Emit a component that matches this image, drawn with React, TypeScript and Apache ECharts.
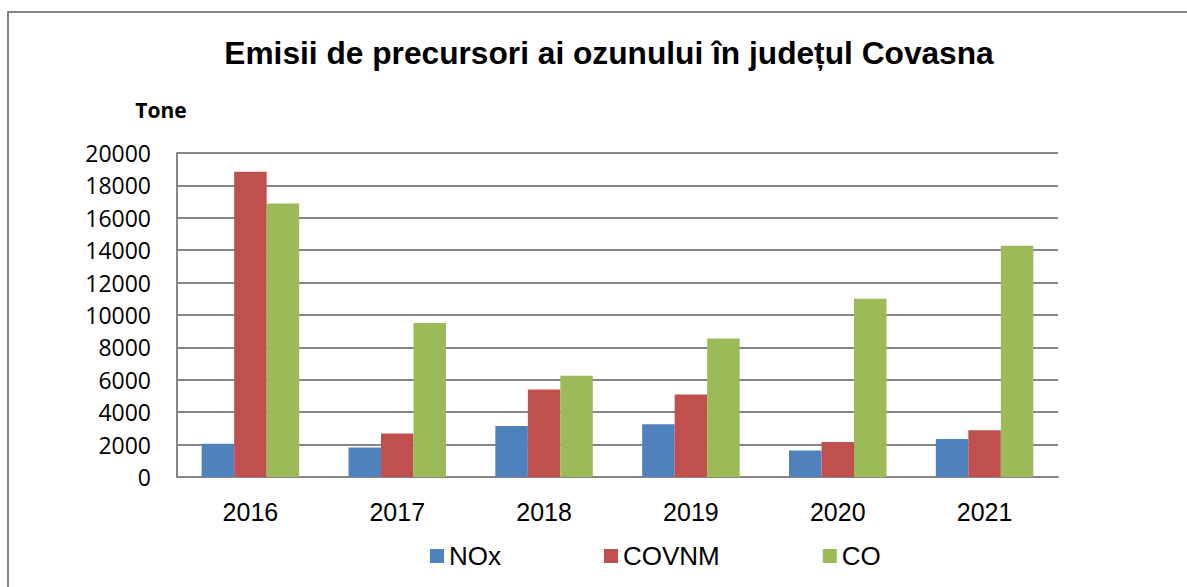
import React, { useEffect, useRef } from "react";
import * as echarts from "echarts";

const years = ["2016", "2017", "2018", "2019", "2020", "2021"];
const seriesNames = ["NOx", "COVNM", "CO"];
const noxValues = [2050, 1820, 3150, 3250, 1630, 2350];
const covnmValues = [18850, 2680, 5400, 5100, 2160, 2880];
const coValues = [16880, 9500, 6250, 8550, 11000, 14280];
const yTicks = { min: 0, max: 20000, interval: 2000 };
const colors = ["#4F81BD", "#C0504D", "#9BBB59"];

export default function App() {
  const ref = useRef<HTMLDivElement>(null);
  useEffect(() => {
    if (!ref.current) return;
    const chart = echarts.init(ref.current, null, { renderer: "svg" });
    const values = [noxValues, covnmValues, coValues];
    chart.setOption({
      animation: false,
      backgroundColor: "#ffffff",
      title: {
        text: "Emisii de precursori ai ozunului în județul Covasna",
        left: 604,
        textAlign: "center",
        top: 32,
        textStyle: {
          fontFamily: "Liberation Sans",
          fontWeight: "bold",
          fontSize: 31.7,
          color: "#000",
        },
      },
      graphic: [
        {
          type: "rect",
          shape: { x: 8, y: 12, width: 1200, height: 620 },
          style: { fill: "none", stroke: "#868686", lineWidth: 2 },
          silent: true,
        },
        {
          type: "text",
          x: 161,
          y: 110,
          style: {
            text: "Tone",
            fontFamily: "Open Sans",
            fontWeight: "bold",
            fontSize: 21,
            fill: "#000",
            align: "center",
            verticalAlign: "middle",
          },
        },
      ],
      legend: {
        left: 425,
        top: 538,
        itemWidth: 14,
        itemHeight: 14,
        itemGap: 103,
        icon: "rect",
        textStyle: {
          fontFamily: "Liberation Sans",
          fontSize: 26,
          color: "#000",
          padding: [0, 0, 0, 0],
        },
        data: seriesNames,
      },
      grid: { left: 177, right: 129, top: 153, bottom: 110 },
      xAxis: {
        type: "category",
        data: years,
        axisLine: { lineStyle: { color: "#868686", width: 2 } },
        axisTick: { show: false },
        axisLabel: {
          margin: 22,
          fontFamily: "Liberation Sans",
          fontSize: 25,
          color: "#000",
        },
      },
      yAxis: {
        type: "value",
        min: yTicks.min,
        max: yTicks.max,
        interval: yTicks.interval,
        axisLine: { show: true, lineStyle: { color: "#868686", width: 2 } },
        axisTick: { show: false },
        splitLine: { lineStyle: { color: "#868686", width: 2 } },
        axisLabel: {
          margin: 26,
          fontFamily: "Open Sans",
          fontSize: 23,
          color: "#000",
          formatter: (v: number) => String(v),
        },
      },
      series: seriesNames.map((name, i) => ({
        name,
        type: "bar",
        data: values[i],
        barGap: "0%",
        barCategoryGap: "33.6%",
        itemStyle: { color: colors[i] },
      })),
    });
    return () => chart.dispose();
  }, []);
  return (
    <div
      ref={ref}
      style={{ position: "fixed", left: 0, top: 0, width: 1187, height: 587 }}
    />
  );
}
